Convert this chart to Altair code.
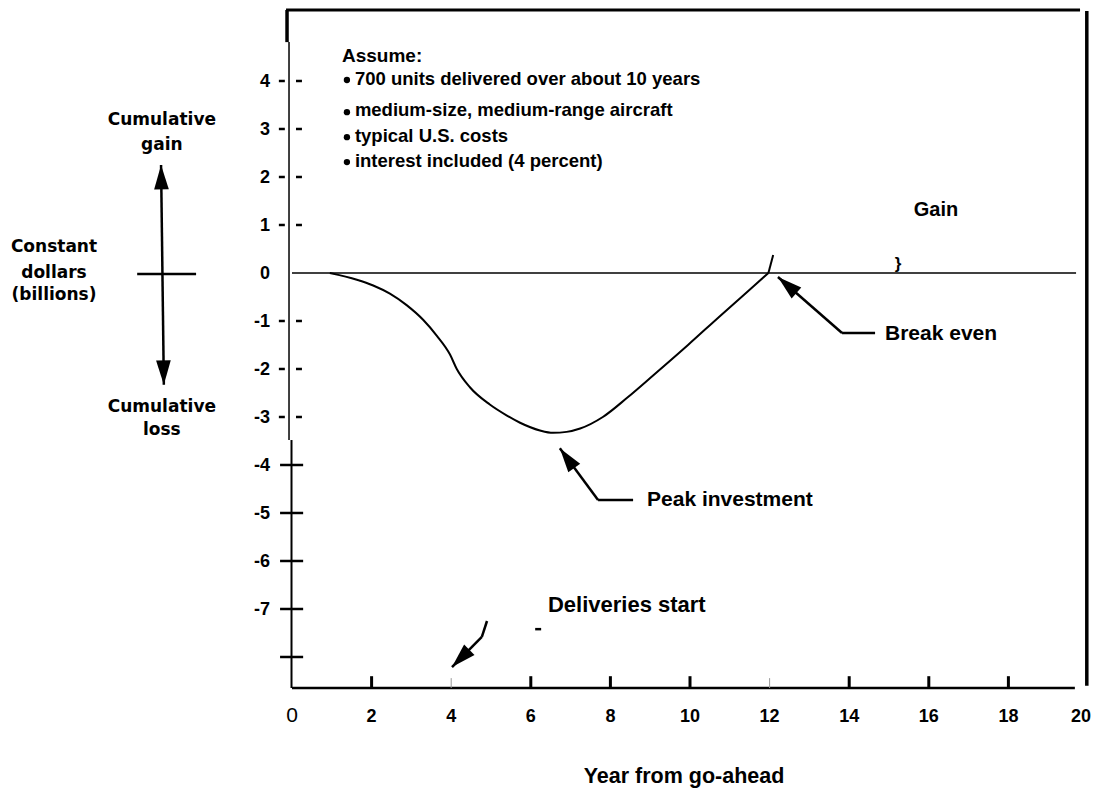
import altair as alt
import pandas as pd

# ---------------- data (years, billions of constant dollars) ----------------
curve_year = [0.95, 1.63, 2.04, 2.46, 2.88, 3.30, 3.64, 3.97, 4.14, 4.47, 4.97, 5.40, 5.73,
              6.23, 6.56, 6.90, 7.24, 7.81, 8.42, 9.08, 9.95, 10.75, 11.59, 11.97]
curve_value = [0.0, -0.14, -0.26, -0.43, -0.67, -0.98, -1.31, -1.70, -2.00, -2.38, -2.74, -2.97, -3.12,
               -3.28, -3.33, -3.31, -3.24, -3.00, -2.60, -2.13, -1.50, -0.90, -0.28, 0.0]
# short stroke continuing above zero after break-even
above_year = [11.97, 12.09]
above_value = [0.0, 0.375]

x_label_values = [2, 4, 6, 8, 10, 12, 14, 16, 18]
x_last_label = [20]
x_strong_ticks = [2, 6, 8, 10, 14, 16, 18]
x_faint_ticks = [4, 12]
y_label_values = [4, 3, 2, 1, 0, -1, -2, -3, -4, -5, -6, -7]
y_dash_ticks = [4, 3, 2, 1, -1, -2, -3]
y_cross_ticks = [-4, -5, -6, -7, -8]

assume_title = "Assume:"
assume_lines = ["700 units delivered over about 10 years",
                "medium-size, medium-range aircraft",
                "typical U.S. costs",
                "interest included (4 percent)"]
assume_line_y = [3.92, 3.27, 2.73, 2.21]
assume_bullet_y = [4.02, 3.35, 2.83, 2.31]

left_labels = ["Cumulative", "gain", "Constant", "dollars", "(billions)", "Cumulative", "loss"]
left_label_x = [-3.27, -3.27, -5.98, -5.98, -5.98, -3.27, -3.27]
left_label_y = [3.08, 2.56, 0.44, -0.10, -0.56, -2.90, -3.38]

note_text = ["Gain", "Break even", "Peak investment", "Deliveries start"]
note_x = [16.18, 14.90, 8.92, 6.43]
note_y = [1.31, -1.27, -4.73, -6.92]
note_size = [20, 21, 21, 22]

# leader lines: (x, y) -> (x2, y2)
lead_x = [12.21, 13.82, 6.73, 7.69, 4.02, 4.77, -3.29, -3.89, 6.11]
lead_y = [-0.083, -1.25, -3.65, -4.73, -8.21, -7.58, 2.25, -0.02, -7.42]
lead_x2 = [13.82, 14.65, 7.69, 8.57, 4.77, 4.90, -3.22, -2.41, 6.26]
lead_y2 = [-1.25, -1.25, -4.73, -4.73, -7.58, -7.25, -2.33, -0.02, -7.42]

head_x = [12.21, 6.73, 4.02, -3.29, -3.22]
head_y = [-0.083, -3.65, -8.21, 2.25, -2.33]
head_angle = [311, 324, 225, 359, 179]

X_DOMAIN = [0, 20]
Y_DOMAIN = [-8.646, 5.479]

FONT = "Liberation Sans"
xs = alt.Scale(domain=X_DOMAIN, nice=False, zero=False)
ys = alt.Scale(domain=Y_DOMAIN, nice=False, zero=False)


def enc_xy():
    return dict(x=alt.X("x:Q", scale=xs, axis=None), y=alt.Y("y:Q", scale=ys, axis=None))


def segs(x, y, x2, y2, width, color="black"):
    df = pd.DataFrame({"x": x, "y": y, "x2": x2, "y2": y2})
    return alt.Chart(df).mark_rule(strokeWidth=width, color=color, strokeCap="butt").encode(
        x2="x2:Q", y2="y2:Q", **enc_xy())


def texts(x, y, t, size, align="left", baseline="alphabetic", font=FONT, weight="bold", dx=0):
    df = pd.DataFrame({"x": x, "y": y, "t": t})
    return alt.Chart(df).mark_text(align=align, baseline=baseline, font=font, dx=dx,
                                   fontSize=size, fontWeight=weight, color="black").encode(
        text="t:N", **enc_xy())


layers = []

# frame
layers.append(segs([-0.15], [5.479], [19.8], [5.479], 3))                 # top
layers.append(segs([-0.125], [5.479], [-0.125], [4.81], 3.5))             # top-left heavy piece
layers.append(segs([-0.075], [4.81], [-0.075], [-3.48], 1.5))             # left axis upper
layers.append(segs([-0.0125], [-3.48], [-0.0125], [-8.646], 2))           # left axis lower
layers.append(segs([19.97], [5.46], [19.97], [-8.60], 3.5))               # right border
layers.append(segs([0], [-8.646], [19.67], [-8.646], 2.5))                # x axis
layers.append(segs([0], [0], [19.7], [0], 1.5))                           # zero line

# x ticks
layers.append(segs(x_strong_ticks, [-8.646] * len(x_strong_ticks), x_strong_ticks,
                   [-8.40] * len(x_strong_ticks), 3))
layers.append(segs(x_faint_ticks, [-8.646] * len(x_faint_ticks), x_faint_ticks,
                   [-8.44] * len(x_faint_ticks), 1, color="#999999"))

# y ticks
n = len(y_dash_ticks)
layers.append(segs([-0.33] * n, y_dash_ticks, [-0.18] * n, y_dash_ticks, 2.5))
layers.append(segs([0.10] * n, y_dash_ticks, [0.25] * n, y_dash_ticks, 2.5))
m = len(y_cross_ticks)
layers.append(segs([-0.30] * m, y_cross_ticks, [0.28] * m, y_cross_ticks, 2.5))

# curve
curve_df = pd.DataFrame({"x": curve_year, "y": curve_value})
layers.append(alt.Chart(curve_df).mark_line(color="black", strokeWidth=2,
                                            interpolate="monotone").encode(**enc_xy()))
layers.append(segs(above_year[:1], above_value[:1], above_year[1:], above_value[1:], 2))

# tick labels
layers.append(texts(x_label_values, [-9.354] * len(x_label_values),
                    [str(v) for v in x_label_values], 18, align="center"))
layers.append(texts(x_last_label, [-9.354], [str(v) for v in x_last_label], 18,
                    align="right", dx=3))
layers.append(texts([0], [-9.354], ["0"], 21, align="center", weight="normal"))
layers.append(texts([-0.55] * len(y_label_values), [v - 0.02 for v in y_label_values],
                    [str(v) for v in y_label_values], 18, align="right", baseline="middle"))

# assumptions block
layers.append(texts([1.256], [4.40], [assume_title], 19))
layers.append(texts([1.58] * len(assume_lines), assume_line_y, assume_lines, 18.5))
bul = pd.DataFrame({"x": [1.38] * len(assume_bullet_y), "y": assume_bullet_y})
layers.append(alt.Chart(bul).mark_point(shape="circle", filled=True, color="black",
                                        opacity=1, size=40).encode(**enc_xy()))

# left side labels
layers.append(texts(left_label_x, left_label_y, left_labels, 17, align="center",
                    font="DejaVu Sans"))

# notes
layers.append(texts(note_x[:1], note_y[:1], note_text[:1], note_size[0], align="center",
                    baseline="middle"))
for i in range(1, len(note_text)):
    layers.append(texts([note_x[i]], [note_y[i]], [note_text[i]], note_size[i], baseline="middle"))
layers.append(texts([15.23], [0.19], ["}"], 17, align="center", baseline="middle"))

# leader lines and arrowheads
layers.append(segs(lead_x, lead_y, lead_x2, lead_y2, 2.5))
heads = pd.DataFrame({"x": head_x, "y": head_y, "a": head_angle})
layers.append(alt.Chart(heads).mark_point(shape="M0,0L-0.6,2L0.6,2Z", filled=True, color="black",
                                          opacity=1, size=600, strokeWidth=0).encode(
    angle=alt.Angle("a:Q", scale=None), **enc_xy()))

# x axis title
layers.append(texts([9.85], [-10.62], ["Year from go-ahead"], 21.5, align="center"))

chart = alt.layer(*layers).properties(
    width=796, height=678,
    autosize=alt.AutoSizeParams(type="none"),
    padding={"left": 284, "top": 2, "right": 4, "bottom": 103},
).configure_view(stroke=None)

chart.save("out.html", embed_options={"renderer": "svg", "actions": False})
